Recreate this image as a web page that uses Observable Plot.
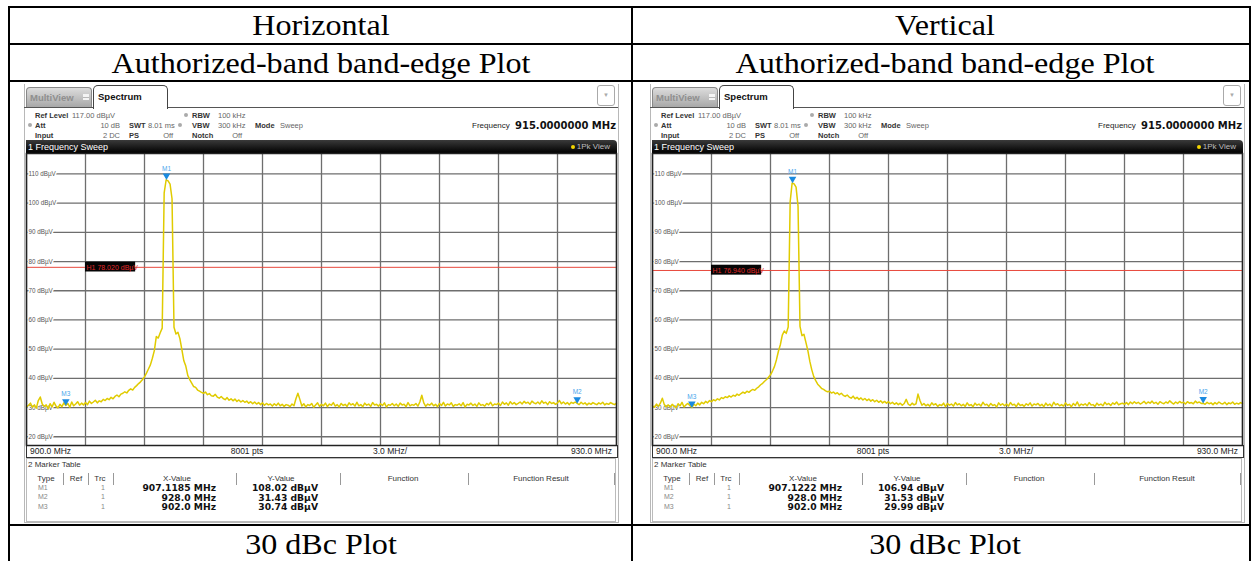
<!DOCTYPE html>
<html><head><meta charset="utf-8">
<script src="https://cdn.jsdelivr.net/npm/d3@7"></script>
<script src="https://cdn.jsdelivr.net/npm/@observablehq/plot@0.6"></script>
<style>
html,body{margin:0;padding:0;background:#fff;}
#page{position:relative;width:1253px;height:561px;overflow:hidden;background:#fff;}
.ln{position:absolute;background:#000;}
.cell{position:absolute;font-family:"Liberation Serif","Times New Roman",serif;font-size:30px;color:#000;text-align:center;white-space:nowrap;line-height:32px;transform:scaleX(1.07);}
.i{position:absolute;white-space:nowrap;font-family:"Liberation Sans",Arial,sans-serif;color:#333;}
</style>
</head><body><div id="page"></div>
<script>
// ---------- data ----------
const columnTitles = ["Horizontal", "Vertical"];
const rowTitle = "Authorized-band band-edge Plot";
const footTitle = "30 dBc Plot";
const refLevel = 117;
const freqStart = 900, freqStep = 0.1;
const xTicks = [900, 903, 906, 909, 912, 915, 918, 921, 924, 927, 930];
const yTicks = [20, 30, 40, 50, 60, 70, 80, 90, 100, 110];
const markerNames = ["M1", "M2", "M3"];
const markerFreqH = [907.1185, 928.0, 902.0];
const markerLevelH = [108.02, 31.43, 30.74];
const markerFreqV = [907.1222, 928.0, 902.0];
const markerLevelV = [106.94, 31.53, 29.99];
const limitH = 78.02, limitV = 76.94;
const levelsH = [
30.2,30.8,31.5,30.1,30.9,29.8,32.4,33.6,31.2,30.4,
30.9,29.6,31.3,30.2,31.8,30.5,29.9,31.1,30.3,31.6,
30.7,31.4,30.1,31.9,30.6,31.2,32.0,30.8,31.5,30.9,
31.7,31.0,32.2,31.4,31.9,32.5,31.6,32.3,32.0,32.8,
32.4,33.1,32.7,33.5,33.0,33.8,34.3,33.7,34.6,34.9,
35.4,35.0,35.9,36.4,36.0,36.9,37.5,38.2,38.8,39.6,
40.5,41.8,43.2,44.6,46.9,49.5,54.3,53.8,55.6,57.2,
103.5,108.0,107.6,106.5,101.5,57.5,55.2,55.8,53.6,49.8,
46.0,44.2,41.0,39.6,38.4,37.2,36.9,36.0,35.6,35.2,
34.9,35.3,34.4,34.8,34.0,33.9,34.5,33.6,33.2,33.8,
33.1,32.7,33.4,32.5,33.0,32.3,32.9,32.1,32.6,31.9,
32.4,31.8,32.2,31.5,32.0,31.3,31.9,31.2,31.7,31.0,
31.6,30.8,31.4,30.9,31.2,30.5,31.3,30.7,31.5,30.6,
31.1,30.4,31.0,30.8,30.3,31.2,30.6,33.0,34.9,32.8,
30.5,31.3,30.2,31.0,30.7,31.4,30.1,30.9,31.6,30.4,
31.1,30.6,31.5,30.3,31.2,30.8,31.7,30.5,31.0,30.2,
31.4,30.7,31.1,30.4,31.6,30.9,31.3,30.5,31.8,30.6,
31.0,30.3,31.5,30.8,31.2,30.4,31.7,30.9,31.1,30.5,
31.3,30.7,31.6,30.2,31.0,30.8,31.4,30.6,31.2,30.4,
31.5,30.9,31.1,30.3,31.7,30.6,31.0,30.8,31.4,30.5,
31.9,34.2,31.6,30.4,31.2,30.8,31.5,30.6,31.1,30.3,
31.4,30.7,31.8,30.5,31.2,30.9,31.6,30.4,31.0,30.8,
31.3,30.6,31.7,30.2,31.1,30.9,31.5,30.7,31.2,30.4,
31.6,30.8,31.0,30.5,31.4,30.9,31.8,30.6,31.2,31.0,
31.5,30.7,31.9,31.1,31.6,30.8,32.0,31.2,31.7,31.0,
31.4,31.9,31.2,32.1,31.5,31.8,31.1,32.2,31.6,31.3,
31.9,31.2,32.3,31.5,31.8,31.0,32.0,31.4,31.7,31.1,
31.6,32.4,31.3,31.9,31.2,31.7,31.0,31.8,31.4,31.9,
31.4,31.0,31.8,31.2,31.6,30.9,31.5,31.1,31.7,31.3,
31.0,31.6,31.2,31.8,30.9,31.4,31.1,31.7,31.3,31.0,
31.5];
const levelsV = [
30.6,30.1,31.2,30.4,31.5,33.2,31.0,30.3,30.9,30.2,
31.1,30.5,30.0,31.3,30.6,31.8,30.2,30.9,31.4,30.7,
30.0,31.2,30.6,31.5,30.9,31.8,31.3,32.1,31.6,32.4,
32.0,32.7,32.3,33.0,32.6,33.4,33.1,33.7,33.4,34.0,
33.6,34.2,33.9,34.6,34.2,34.8,35.3,34.9,35.6,35.2,
35.8,36.2,35.9,36.6,37.1,37.8,38.3,39.0,39.6,40.4,
41.2,42.5,44.0,46.3,49.2,51.5,54.8,56.2,55.4,57.6,
100.5,106.9,106.6,105.5,99.0,57.8,54.6,55.1,52.3,49.5,
45.8,42.9,40.6,39.2,38.0,37.3,36.5,36.2,35.7,35.4,
35.6,35.0,35.3,34.7,35.1,34.4,34.9,34.2,33.8,34.3,
33.6,33.2,33.9,33.0,33.5,32.8,33.3,32.6,33.1,32.4,
32.9,32.2,32.7,32.0,32.5,31.8,32.3,31.6,32.1,31.5,
32.0,31.3,31.8,31.1,31.6,31.0,31.5,30.8,31.4,32.8,
31.2,30.7,31.5,30.9,31.3,34.6,32.4,30.8,31.4,30.6,
31.1,30.5,31.6,30.9,31.3,30.4,31.0,30.7,31.5,30.3,
31.4,30.8,31.2,30.5,31.7,30.9,31.3,30.6,31.1,30.4,
31.6,30.7,31.0,30.3,31.5,30.8,31.2,30.5,31.8,30.9,
31.1,30.4,31.4,30.7,31.0,30.2,31.6,30.8,31.3,30.6,
31.2,30.5,31.7,30.9,31.1,30.3,31.5,30.7,31.0,30.4,
31.3,30.8,31.6,30.5,31.2,30.9,31.4,30.6,31.1,30.3,
31.5,30.7,31.2,30.4,31.8,30.9,31.3,30.6,31.0,30.5,
31.6,30.8,31.1,30.3,31.4,30.7,31.9,30.5,31.2,30.8,
31.3,30.6,31.7,30.9,31.0,30.4,31.5,30.8,31.2,30.6,
31.8,31.0,31.4,30.7,31.6,31.1,31.9,30.9,31.3,31.5,
31.1,31.7,31.0,31.9,31.3,32.0,31.4,31.8,31.2,31.6,
32.1,31.3,31.9,31.5,32.2,31.4,31.8,31.1,32.0,31.6,
31.3,31.9,31.5,32.3,31.7,31.2,31.9,31.4,32.1,31.6,
31.8,31.2,32.0,31.5,31.7,31.3,32.2,31.6,31.9,31.4,
31.5,31.1,31.8,31.3,31.6,31.0,31.7,31.2,31.9,31.4,
31.2,31.8,31.0,31.6,31.3,31.9,31.1,31.5,31.2,31.7,
31.4];

// ---------- page table ----------
const page = document.getElementById("page");
function add(html){ page.insertAdjacentHTML("beforeend", html); }
[6, 43, 80, 524].forEach(y => add(`<div class="ln" style="left:8px;top:${y}px;width:1243px;height:2px"></div>`));
[8, 631, 1249].forEach(x => add(`<div class="ln" style="left:${x}px;top:6px;width:2px;height:560px"></div>`));
const colCenter = [321, 945];
columnTitles.forEach((t, i) => {
  add(`<div class="cell" style="left:${colCenter[i]-300}px;width:600px;top:9px">${t}</div>`);
  add(`<div class="cell" style="left:${colCenter[i]-300}px;width:600px;top:47px">${rowTitle}</div>`);
  add(`<div class="cell" style="left:${colCenter[i]-300}px;width:600px;top:528px">${footTitle}</div>`);
});

// ---------- instrument panels ----------
const F = `'Liberation Sans',Arial,sans-serif`;
const FB = `'DejaVu Sans',Verdana,sans-serif`;
function txt(x, y, s, o = {}) {
  const size = o.size || 7.5, w = o.weight || "normal", c = o.color || "#444", fam = o.font || F, ls = o.ls || 0;
  const base = `top:${y - size * 0.6}px;line-height:${size * 1.2}px;font-size:${size}px;font-weight:${w};color:${c};font-family:${fam};letter-spacing:${ls}px`;
  if (o.anchor === "end") return `<div class="i" style="left:${x-300}px;width:300px;text-align:right;${base}">${s}</div>`;
  if (o.anchor === "middle") return `<div class="i" style="left:${x-150}px;width:300px;text-align:center;${base}">${s}</div>`;
  return `<div class="i" style="left:${x}px;${base}">${s}</div>`;
}

function spectrum(levels, mFreq, mLevel, limit) {
  const trace = levels.map((v, i) => ({f: freqStart + i * freqStep, v}));
  const markers = markerNames.map((n, i) => ({n, f: mFreq[i], v: mLevel[i]}));
  return Plot.plot({
    width: 590, height: 292, margin: 0,
    x: {domain: [xTicks[0], xTicks[xTicks.length - 1]], axis: null},
    y: {domain: [refLevel - 100, refLevel], axis: null},
    style: {background: "white", overflow: "visible", fontFamily: F},
    marks: [
      Plot.ruleX(xTicks, {stroke: "#6e6e6e", strokeWidth: 1.3}),
      Plot.ruleY(yTicks, {stroke: "#6e6e6e", strokeWidth: 1.3}),
      Plot.text(yTicks, {frameAnchor: "left", y: d => d, text: d => `${d} dBµV`, dx: 2, textAnchor: "start",
        fontSize: 6.3, fill: "#555", stroke: "white", strokeWidth: 3}),
      Plot.ruleY([limit], {stroke: "#e8483c", strokeWidth: 1}),
      Plot.line(trace, {x: "f", y: "v", stroke: "#e0cb00", strokeWidth: 1.5}),
      Plot.rect([limit], {x1: () => xTicks[1], x2: () => xTicks[1] + 2.55, y1: d => d - 1.6, y2: d => d + 1.8, fill: "#050505"}),
      Plot.text([limit], {x: () => xTicks[1], y: d => d, dx: 1, textAnchor: "start", text: d => `H1 ${d.toFixed(3)} dBµV`,
        fontSize: 7, fill: "#e02a2a"}),
      Plot.dot(markers, {x: "f", y: "v", symbol: "triangle", rotate: 180, r: 2.8, fill: "#1a8ae0", dy: -4}),
      Plot.text(markers, {x: "f", y: "v", text: "n", dy: -11, fontSize: 6.5, fill: "#4aa6ec"}),
      Plot.frame({stroke: "#222", strokeWidth: 1.5})
    ]
  });
}

function panel(ox, levels, mFreq, mLevel, limit) {
  const P = document.createElement("div");
  P.style.cssText = `position:absolute;left:${ox}px;top:0;width:640px;height:561px;`;
  let h = "";
  h += `<div style="position:absolute;left:24px;top:84px;width:593px;height:438px;border:1px solid #b8b8b8;border-top:none"></div>`;
  // tab bar
  h += `<div style="position:absolute;left:24px;top:107px;width:594px;height:1px;background:#555"></div>`;
  h += `<div style="position:absolute;left:26px;top:87px;width:66px;height:20px;background:linear-gradient(#dcdcdc,#a8a8a8);border:1px solid #888;border-bottom:none;border-radius:4px 4px 0 0;box-sizing:border-box"></div>`;
  h += txt(30, 97.5, "MultiView", {size: 9.5, weight: "bold", color: "#8f8f8f"});
  h += `<div style="position:absolute;left:83px;top:94px;width:6px;height:6px;background:linear-gradient(90deg,#f4f4f4 42%,transparent 42%,transparent 58%,#f4f4f4 58%);"></div>`;
  h += `<div style="position:absolute;left:83px;top:96.5px;width:6px;height:1px;background:#b8b8b8"></div>`;
  h += `<div style="position:absolute;left:93px;top:85px;width:75px;height:24px;background:#fff;border:1px solid #444;border-bottom:none;border-radius:5px 5px 0 0;box-sizing:border-box"></div>`;
  h += txt(98, 97, "Spectrum", {size: 9.5, weight: "bold", color: "#111"});
  h += `<div style="position:absolute;left:597px;top:85px;width:18px;height:21px;border:1px solid #aaa;border-radius:3px;box-sizing:border-box;text-align:center;font-size:6px;line-height:19px;color:#aaa;font-family:${F}">▼</div>`;
  // settings
  const dot = (x, y) => `<div style="position:absolute;left:${x-2}px;top:${y-2}px;width:4px;height:4px;border-radius:2px;background:#aaa"></div>`;
  const L = {weight: "bold", color: "#333"}, V = {color: "#666"};
  h += txt(35, 115, "Ref Level", L) + txt(72, 115, "117.00 dBµV", V);
  h += dot(186, 115) + txt(192, 115, "RBW", L) + txt(218, 115, "100 kHz", V);
  h += dot(30, 125) + txt(35, 125, "Att", L) + txt(120, 125, "10 dB", {anchor: "end", color: "#666"});
  h += txt(129, 125, "SWT", L) + txt(148, 125, "8.01 ms", V);
  h += dot(180, 125) + txt(192, 125, "VBW", L) + txt(218, 125, "300 kHz", V);
  h += txt(255, 125, "Mode", L) + txt(280, 125, "Sweep", V);
  h += txt(35, 135, "Input", L) + txt(120, 135, "2 DC", {anchor: "end", color: "#666"});
  h += txt(129, 135, "PS", L) + txt(173, 135, "Off", {anchor: "end", color: "#666"});
  h += txt(192, 135, "Notch", L) + txt(242, 135, "Off", {anchor: "end", color: "#666"});
  h += txt(472, 126, "Frequency", {size: 8, color: "#222"}) + txt(616, 126, "915.0000000 MHz", {anchor: "end", size: 10, weight: "bold", color: "#111", font: FB});
  // sweep bar
  h += `<div style="position:absolute;left:26px;top:140px;width:591px;height:13px;background:linear-gradient(#3a3a3a,#000);border-radius:0 4px 0 0"></div>`;
  h += txt(28, 147, "1 Frequency Sweep", {size: 9, color: "#fff"});
  h += `<div style="position:absolute;left:571px;top:145px;width:4px;height:4px;border-radius:2px;background:#f2d400"></div>`;
  h += txt(610, 147, "1Pk View", {anchor: "end", size: 8, color: "#bbb"});
  // bottom label bar
  h += `<div style="position:absolute;left:26px;top:445px;width:590px;height:12px;border:1px solid #333;border-top:none;box-sizing:content-box"></div>`;
  h += txt(30, 451, "900.0 MHz", {size: 8.5, color: "#222"}) + txt(247, 451, "8001 pts", {anchor: "middle", size: 8.5, color: "#222"});
  h += txt(373, 451, "3.0 MHz/", {size: 8.5, color: "#222"}) + txt(612, 451, "930.0 MHz", {anchor: "end", size: 8.5, color: "#222"});
  // marker readout
  const blue = "#3396e0";
  const B = {anchor: "end", color: blue, size: 8.8};
  h += txt(550, 162, "M3[1]", B) + txt(613, 162, `${mLevel[2].toFixed(2)} dBµV`, B);
  h += txt(613, 176, `${mFreq[2].toFixed(5)} MHz`, B);
  h += txt(550, 190, "M1[1]", B) + txt(613, 190, `${mLevel[0].toFixed(2)} dBµV`, B);
  h += txt(613, 204, `${mFreq[0].toFixed(5)} MHz`, B);
  // marker table
  h += `<div style="position:absolute;left:26px;top:458px;width:590px;height:64px;border:1px solid #bbb;box-sizing:border-box"></div>`;
  h += txt(28, 465, "2 Marker Table", {size: 8, color: "#333"});
  const hdr = [["Type", 46], ["Ref", 76], ["Trc", 100], ["X-Value", 177], ["Y-Value", 281], ["Function", 403], ["Function Result", 541]];
  hdr.forEach(([s, x]) => h += txt(x, 479, s, {anchor: "middle", size: 8, color: "#333"}));
  [63, 88, 113, 236, 340, 468, 614].forEach(x => h += `<div style="position:absolute;left:${x}px;top:473px;width:1px;height:12px;background:#999"></div>`);
  const rowsY = [488, 497.5, 507];
  markerNames.forEach((n, i) => {
    h += txt(38, rowsY[i], n, {size: 7, color: "#888"});
    h += txt(101, rowsY[i], "1", {size: 7, color: "#888"});
    h += txt(216, rowsY[i], `${mFreq[i] % 1 === 0 ? mFreq[i].toFixed(1) : mFreq[i].toFixed(4)} MHz`, {anchor: "end", size: 9.2, weight: "bold", color: "#111", font: FB});
    h += txt(318, rowsY[i], `${mLevel[i].toFixed(2)} dBµV`, {anchor: "end", size: 9.2, weight: "bold", color: "#111", font: FB});
  });
  P.innerHTML = h;
  const holder = document.createElement("div");
  holder.style.cssText = "position:absolute;left:26px;top:153px;width:590px;height:292px;";
  holder.appendChild(spectrum(levels, mFreq, mLevel, limit));
  P.appendChild(holder);
  page.appendChild(P);
}
panel(0, levelsH, markerFreqH, markerLevelH, limitH);
panel(626, levelsV, markerFreqV, markerLevelV, limitV);
</script></body></html>
